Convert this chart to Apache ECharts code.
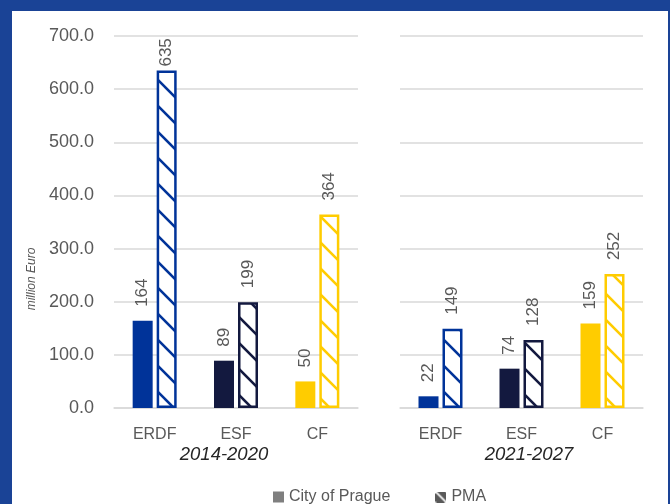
<!DOCTYPE html>
<html>
<head>
<meta charset="utf-8">
<script src="https://cdn.jsdelivr.net/npm/echarts@6/dist/echarts.min.js"></script>
<style>
  html, body { margin:0; padding:0; width:670px; height:504px; overflow:hidden; background:#1A4396; }
  #paper { position:absolute; left:12px; top:11px; width:656px; height:493px; background:#ffffff; }
  #chart { position:absolute; left:0; top:0; width:670px; height:504px; }
</style>
</head>
<body>
<div id="paper"></div>
<div id="chart"></div>
<script>
// ---- data ----
const categories = ['ERDF', 'ESF', 'CF'];
const periods = ['2014-2020', '2021-2027'];
const seriesNames = ['City of Prague', 'PMA'];
const prague2014 = [164, 89, 50];
const pma2014 = [635, 199, 364];
const prague2021 = [22, 74, 159];
const pma2021 = [149, 128, 252];
const yTicks = [0, 100, 200, 300, 400, 500, 600, 700];
const yTitle = 'million Euro';

// ---- styling ----
const catColors = ['#003399', '#13193F', '#FFCC00'];
const FONT = 'Liberation Sans, Arial, sans-serif';
const GREY = '#595959';
const GRID = '#D9D9D9';

function stripeCanvas(color, size, lw, bg) {
  const c = document.createElement('canvas');
  c.width = size; c.height = size;
  const g = c.getContext('2d');
  g.fillStyle = bg; g.fillRect(0, 0, size, size);
  g.strokeStyle = color; g.lineWidth = lw;
  for (const off of [-size, 0, size]) {
    g.beginPath();
    g.moveTo(-2, -2 + off);
    g.lineTo(size + 2, size + 2 + off);
    g.stroke();
  }
  return c;
}

function pragueData(vals) {
  return vals.map((v, i) => ({ value: v, itemStyle: { color: catColors[i] } }));
}
function pmaData(vals) {
  return vals.map((v, i) => ({
    value: v,
    itemStyle: {
      color: { image: stripeCanvas(catColors[i], 26, 2.6, '#ffffff'), repeat: 'repeat' },
      borderColor: catColors[i],
      borderWidth: 2.5
    },
    label: { distance: v > 600 ? 4 : 14 }
  }));
}

const labelStyle = {
  show: true, position: 'top', rotate: 90, align: 'left', verticalAlign: 'middle',
  distance: 14, fontSize: 17, color: GREY, fontFamily: FONT
};

function xAxisDef(gi) {
  return {
    type: 'category', gridIndex: gi, data: categories,
    axisLine: { show: true, lineStyle: { color: GRID, width: 1.5 } },
    axisTick: { show: false },
    axisLabel: { margin: 19, fontSize: 16, color: GREY, fontFamily: FONT }
  };
}
function yAxisDef(gi, showLabels) {
  return {
    type: 'value', gridIndex: gi, min: yTicks[0], max: yTicks[yTicks.length - 1], interval: 100,
    axisLine: { show: false }, axisTick: { show: false },
    splitLine: { lineStyle: { color: GRID, width: 1.5 } },
    axisLabel: { show: showLabels, margin: 20, fontSize: 18, color: GREY, fontFamily: FONT,
                 formatter: v => v.toFixed(1) }
  };
}

const legendPmaIcon = 'image://' + stripeCanvas('#ffffff', 11, 1.8, '#595959').toDataURL();

const chart = echarts.init(document.getElementById('chart'), null, { renderer: 'canvas' });
chart.setOption({
  backgroundColor: 'transparent',
  animation: false,
  grid: [
    { left: 114, top: 36, width: 244, height: 372, containLabel: false },
    { left: 400, top: 36, width: 243, height: 372, containLabel: false }
  ],
  xAxis: [xAxisDef(0), xAxisDef(1)],
  yAxis: [yAxisDef(0, true), yAxisDef(1, false)],
  legend: {
    left: 268, top: 484, itemWidth: 11, itemHeight: 11, itemGap: 45,
    textStyle: { fontSize: 16, color: GREY, fontFamily: FONT },
    data: [
      { name: seriesNames[0], icon: 'rect', itemStyle: { color: '#7F7F7F', borderWidth: 0 } },
      { name: seriesNames[1], icon: legendPmaIcon }
    ]
  },
  graphic: [
    { type: 'text', x: 32, y: 279, rotation: Math.PI / 2,
      style: { text: yTitle, fontSize: 12, fontStyle: 'italic', fill: GREY, fontFamily: FONT,
               align: 'center', verticalAlign: 'middle' } },
    { type: 'text', x: 224, y: 455,
      style: { text: periods[0], fontSize: 18.5, fontStyle: 'italic', fill: '#262626', fontFamily: FONT,
               align: 'center', verticalAlign: 'middle' } },
    { type: 'text', x: 529, y: 455,
      style: { text: periods[1], fontSize: 18.5, fontStyle: 'italic', fill: '#262626', fontFamily: FONT,
               align: 'center', verticalAlign: 'middle' } }
  ],
  series: [
    { name: seriesNames[0], type: 'bar', xAxisIndex: 0, yAxisIndex: 0, barWidth: 20, barGap: '20%',
      data: pragueData(prague2014), label: labelStyle },
    { name: seriesNames[1], type: 'bar', xAxisIndex: 0, yAxisIndex: 0, barWidth: 20, barGap: '20%',
      data: pmaData(pma2014), label: labelStyle },
    { name: seriesNames[0], type: 'bar', xAxisIndex: 1, yAxisIndex: 1, barWidth: 20, barGap: '20%',
      data: pragueData(prague2021), label: labelStyle },
    { name: seriesNames[1], type: 'bar', xAxisIndex: 1, yAxisIndex: 1, barWidth: 20, barGap: '20%',
      data: pmaData(pma2021), label: labelStyle }
  ]
});
</script>
</body>
</html>
